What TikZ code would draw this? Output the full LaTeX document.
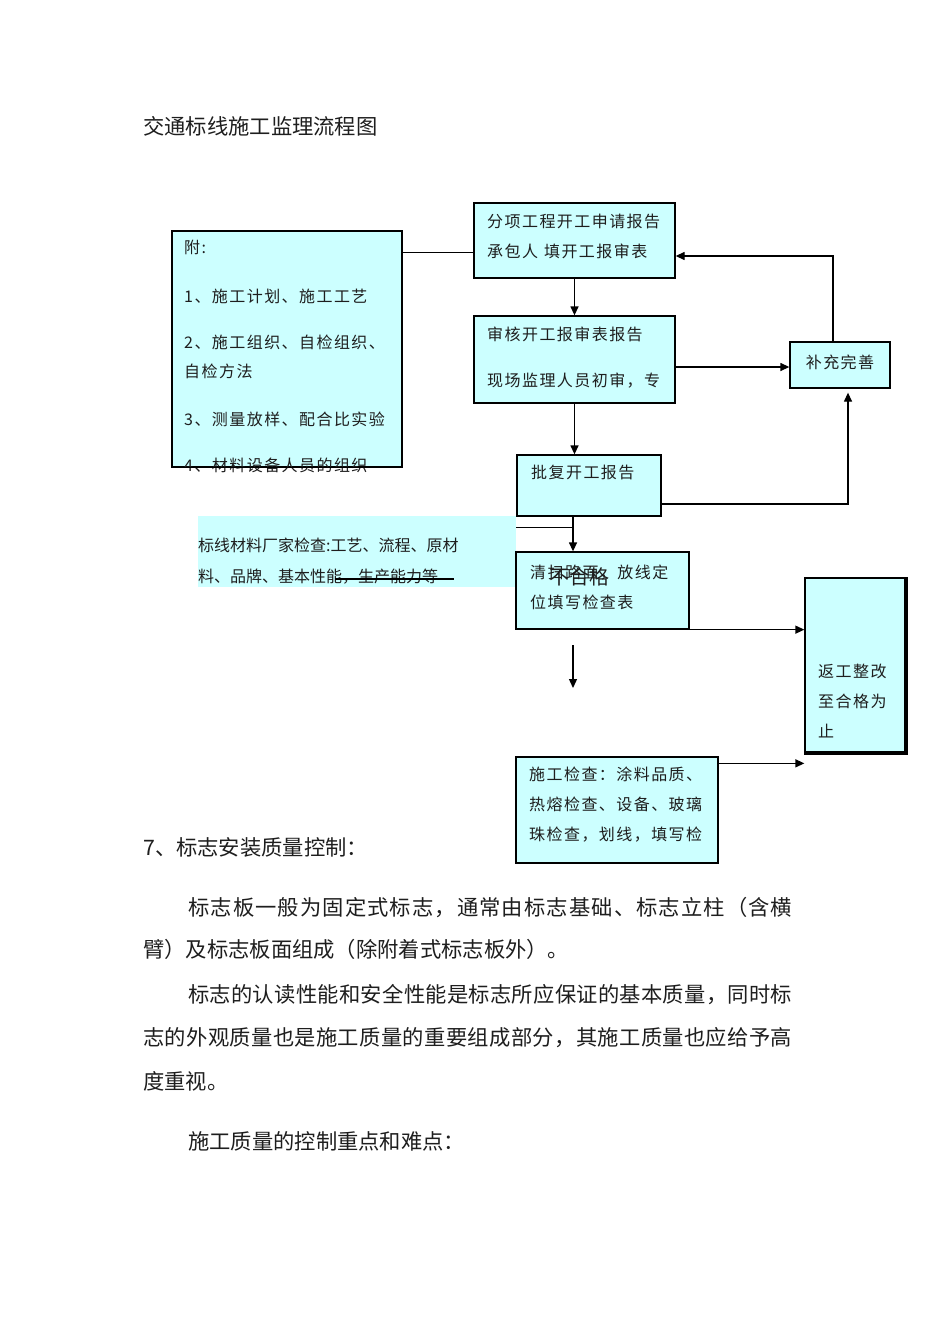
\documentclass[tikz,border=0pt]{standalone}
\usepackage{fontspec}
\usetikzlibrary{arrows.meta}
\newfontfamily\cjk{Noto Sans CJK SC}
\newfontfamily\cjksp[LetterSpace=9]{Noto Sans CJK SC}
\definecolor{boxcyan}{RGB}{204,255,255}
\definecolor{ink}{RGB}{30,30,30}
\def\spreadx#1{\ifx#1\relax\else\hfil#1\expandafter\spreadx\fi}
\def\spreadfirst#1{#1\spreadx}
\def\spreadtext#1{\spreadfirst#1\relax}
\tikzset{
  box/.style={draw=black, fill=boxcyan, line width=1.3pt, inner sep=0pt},
  panel/.style={fill=boxcyan, inner sep=0pt},
  btxt/.style={inner sep=0pt, anchor=west, text=ink, font=\cjksp\fontsize{16pt}{16pt}\selectfont, text height=13.8pt, text depth=1.9pt},
  ftxt/.style={inner sep=0pt, anchor=west, text=ink, font=\cjk\fontsize{16pt}{16pt}\selectfont, text height=13.8pt, text depth=1.9pt},
  body/.style={inner sep=0pt, anchor=west, text=ink, font=\cjk\fontsize{21.3pt}{21.3pt}\selectfont, text height=18.3pt, text depth=2.6pt},
  conn/.style={draw=black, line width=1.3pt},
  arr/.style={conn, -{Triangle[length=9pt,width=8pt]}}
}
\begin{document}
\begin{tikzpicture}[x=1pt,y=-1pt]
\useasboundingbox[fill=white] (0,0) rectangle (950,1344);

% title
\node[body] (title) at (143,127) {交通标线施工监理流程图};

% boxes
\node[box, minimum width=230pt, minimum height=236pt] (A) at (287,349) {};
\node[box, minimum width=201pt, minimum height=75pt] (B) at (574.5,240.5) {};
\node[box, minimum width=201pt, minimum height=87pt] (C) at (574.5,359.5) {};
\node[box, minimum width=144pt, minimum height=61pt] (D) at (589,485.5) {};
\node[box, minimum width=100pt, minimum height=46pt] (E) at (840,365) {};
\node[panel, minimum width=318pt, minimum height=71pt] (F) at (357,551.5) {};
\node[box, minimum width=173pt, minimum height=77pt] (G) at (602.5,590.5) {};
\node[box, minimum width=100pt, minimum height=174pt] (H) at (855,665) {};
\draw[line width=2.6pt] ([xshift=0.6pt]H.north east) -- ([xshift=0.6pt,yshift=-0.6pt]H.south east) -- ([yshift=-0.6pt]H.south west);
\node[box, minimum width=202pt, minimum height=106pt] (I) at (617,810) {};

% box A texts
\node[btxt] (a0) at (184,248) {附:};
\node[btxt] (a1) at (184,297) {1、施工计划、施工工艺};
\node[btxt] (a2) at (184,343) {2、施工组织、自检组织、};
\node[btxt] (a3) at (184,372) {自检方法};
\node[btxt] (a4) at (184,420) {3、测量放样、配合比实验};
\node[btxt] (a5) at (184,466) {4、材料设备人员的组织};
\draw[line width=1.3pt] (A.south west) -- (A.south east);

% box B, C, D, E texts
\node[btxt] (b1) at (487,222) {分项工程开工申请报告};
\node[btxt] (b2) at (487,252) {承包人\hspace{6pt}填开工报审表};
\node[btxt] (c1) at (487,335) {审核开工报审表报告};
\node[btxt] (c2) at (487,381) {现场监理人员初审，专};
\node[btxt] (d1) at (531,473) {批复开工报告};
\node[btxt, anchor=center] (e1) at (840,363) {补充完善};

% panel F text
\node[ftxt] (f1) at (198,546) {标线材料厂家检查:工艺、流程、原材};
\node[ftxt] (f2) at (198,577) {料、品牌、基本性能，生产能力等};
\draw[line width=1.2pt] (335,579) -- (454,579);

% G texts
\node[btxt] (g1) at (530,573) {清扫路面，放线定};
\node[btxt] (g2) at (530,603) {位填写检查表};
\node[inner sep=0pt, text=ink, font=\cjk\fontsize{20pt}{20pt}\selectfont] (nq) at (579,577) {不合格};

% H texts
\node[btxt] (h1) at (818,672) {返工整改};
\node[btxt] (h2) at (818,702) {至合格为};
\node[btxt] (h3) at (818,732) {止};

% I texts
\node[btxt] (i1) at (529,775) {施工检查：涂料品质、};
\node[btxt] (i2) at (529,805) {热熔检查、设备、玻璃};
\node[btxt] (i3) at (529,835) {珠检查，划线，填写检};

% connectors
\coordinate (pa) at ([yshift=-22pt]A.north east);
\draw[conn] (pa) -- (pa -| B.west);
\draw[arr] (B.south) -- (C.north);
\draw[arr] (C.south) -- (C.south |- D.north);
\coordinate (pc) at ([yshift=-7.5pt]C.east);
\draw[arr] (pc) -- (pc -| E.west);
\draw[arr] ([xshift=-7pt]E.north) |- ([yshift=-15.5pt]B.east);
\draw[arr] ([yshift=-18.5pt]D.east) -| ([xshift=8pt,yshift=-4pt]E.south);
\coordinate (pd) at ([xshift=-16pt]D.south);
\coordinate (pf) at ([yshift=-12pt]F.north east);
\draw[conn] (pf) -- (pf -| pd);
\draw[arr] (pd) -- (pd |- G.north);
\draw[arr] (G.south east) -- (G.south east -| H.west);
\coordinate (fa) at (573,645);
\coordinate (fb) at (573,688);
\draw[arr] (fa) -- (fb);
\coordinate (pi) at ([yshift=-7pt]I.north east);
\draw[arr] (pi) -- (pi -| H.west);

% body text
\node[body] (s7) at (143,848) {7、标志安装质量控制：};
\node[body] (p1) at (188,908) {\hbox to 604pt{\spreadtext{标志板一般为固定式标志，通常由标志基础、标志立柱（含横}}};
\node[body] (p2) at (143,950) {臂）及标志板面组成（除附着式标志板外）。};
\node[body] (p3) at (188,995) {\hbox to 604pt{\spreadtext{标志的认读性能和安全性能是标志所应保证的基本质量，同时标}}};
\node[body] (p4) at (143,1038) {\hbox to 649pt{\spreadtext{志的外观质量也是施工质量的重要组成部分，其施工质量也应给予高}}};
\node[body] (p5) at (143,1082) {度重视。};
\node[body] (p6) at (188,1142) {施工质量的控制重点和难点：};
\end{tikzpicture}
\end{document}
